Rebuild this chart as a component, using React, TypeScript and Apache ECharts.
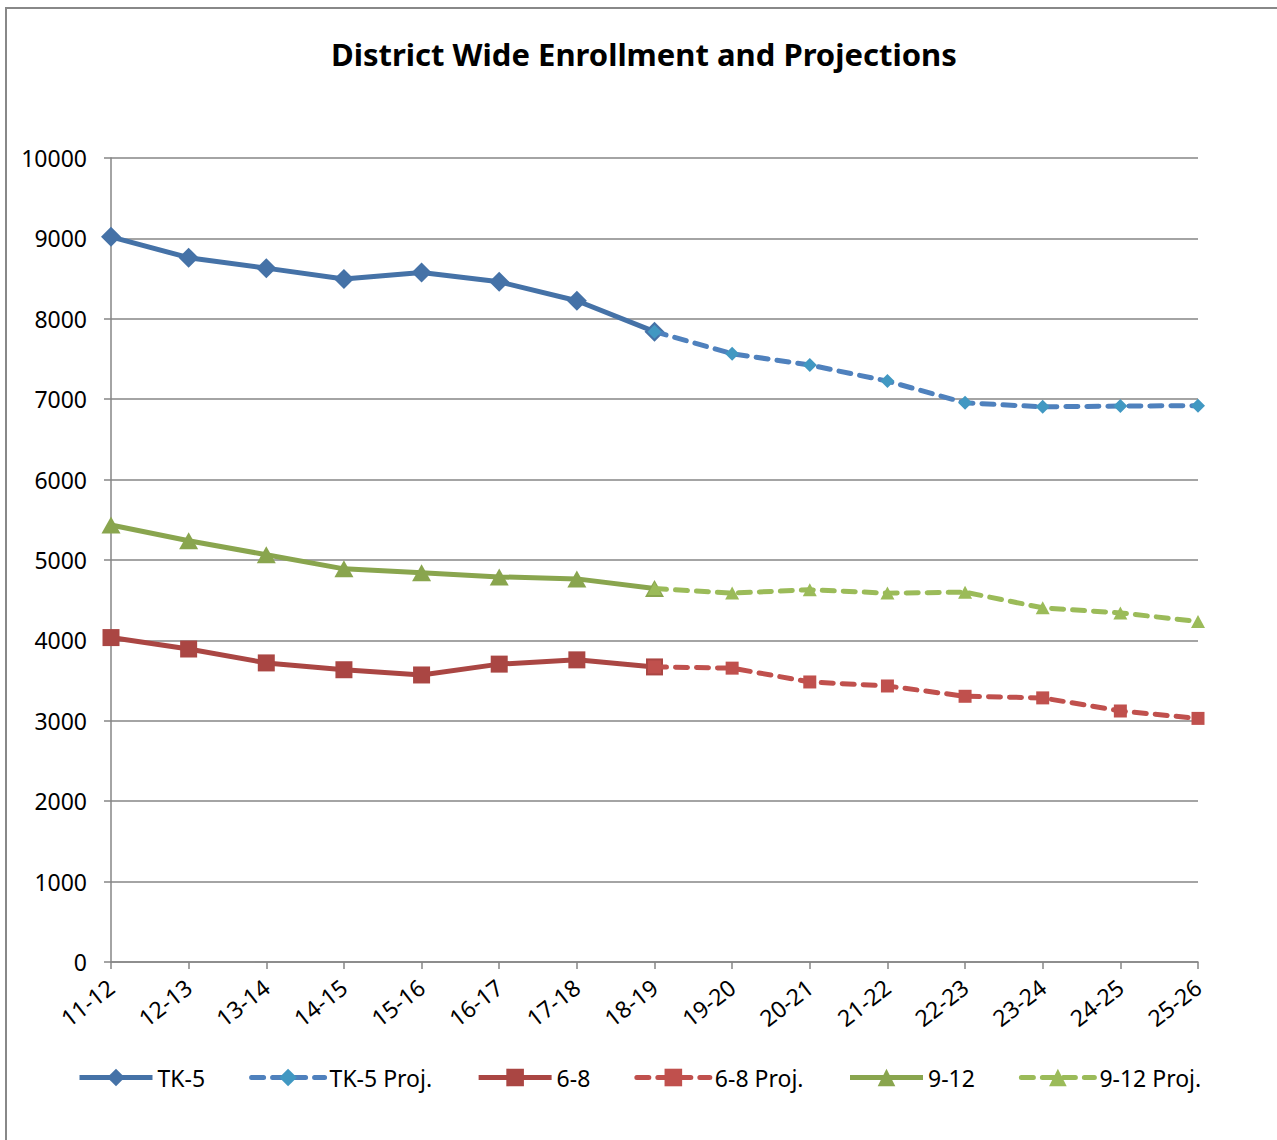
import React, { useEffect, useRef } from "react";
import * as echarts from "echarts";

const categories = ["11-12", "12-13", "13-14", "14-15", "15-16", "16-17", "17-18", "18-19", "19-20", "20-21", "21-22", "22-23", "23-24", "24-25", "25-26"];
const tk5 = [9020, 8760, 8630, 8495, 8575, 8460, 8225, 7840, null, null, null, null, null, null, null];
const tk5Proj = [null, null, null, null, null, null, null, 7840, 7565, 7425, 7225, 6955, 6905, 6915, 6920];
const g68 = [4035, 3893, 3720, 3635, 3570, 3705, 3758, 3670, null, null, null, null, null, null, null];
const g68Proj = [null, null, null, null, null, null, null, 3670, 3655, 3483, 3433, 3305, 3285, 3122, 3030];
const g912 = [5435, 5240, 5065, 4890, 4840, 4790, 4765, 4645, null, null, null, null, null, null, null];
const g912Proj = [null, null, null, null, null, null, null, 4645, 4588, 4630, 4588, 4600, 4405, 4342, 4235];
const yTicks = [0, 1000, 2000, 3000, 4000, 5000, 6000, 7000, 8000, 9000, 10000];

const FONT = "'Noto Sans', 'DejaVu Sans', sans-serif";

export default function App() {
  const ref = useRef<HTMLDivElement>(null);
  useEffect(() => {
    document.body.style.margin = "0";
    const chart = echarts.init(ref.current!, null, { renderer: "svg" });
    const solid = (name: string, data: any[], color: string, symbol: string, size: any) => ({
      name,
      type: "line",
      data,
      symbol,
      symbolSize: size,
      showAllSymbol: true,
      connectNulls: false,
      lineStyle: { color, width: 5 },
      itemStyle: { color },
      z: 2,
    });
    const dashed = (name: string, data: any[], color: string, mColor: string, symbol: string, size: any) => ({
      name,
      type: "line",
      data,
      symbol,
      symbolSize: size,
      showAllSymbol: true,
      connectNulls: false,
      lineStyle: { color, width: 5, type: [12, 9], cap: "round" },
      itemStyle: { color: mColor },
      z: 3,
    });
    chart.setOption({
      animation: false,
      backgroundColor: "#fff",
      textStyle: { fontFamily: FONT },
      title: {
        text: "District Wide Enrollment and Projections",
        left: 326,
        top: 33,
        textStyle: { fontFamily: FONT, fontWeight: "bold", fontSize: 31, color: "#000" },
      },
      graphic: [
        {
          type: "rect",
          shape: { x: 6, y: 8, width: 1400, height: 1300 },
          style: { fill: "none", stroke: "#888", lineWidth: 2 },
          silent: true,
        },
      ],
      grid: { left: 111, right: 79, top: 158, bottom: 178, containLabel: false },
      legend: {
        left: 72,
        top: 1061,
        itemWidth: 73,
        itemHeight: 22,
        itemGap: 44,
        lineStyle: { width: 5 },
        textStyle: { fontFamily: FONT, fontSize: 23, color: "#000" },
        data: ["TK-5", "TK-5 Proj.", "6-8", "6-8 Proj.", "9-12", "9-12 Proj."],
      },
      xAxis: {
        type: "category",
        data: categories,
        boundaryGap: false,
        axisLine: { lineStyle: { color: "#868686", width: 1.5 } },
        axisTick: { show: true, length: 7, inside: false, lineStyle: { color: "#868686", width: 1.5 } },
        axisLabel: { rotate: 38, fontSize: 23, color: "#000", fontFamily: FONT, margin: 22 },
        splitLine: { show: false },
      },
      yAxis: {
        type: "value",
        min: 0,
        max: 10000,
        interval: 1000,
        axisLine: { show: true, lineStyle: { color: "#868686", width: 1.5 } },
        axisTick: { show: true, length: 7, lineStyle: { color: "#868686", width: 1.5 } },
        axisLabel: {
          fontSize: 23,
          color: "#000",
          fontFamily: FONT,
          margin: 24,
          formatter: (v: number) => String(yTicks.includes(v) ? v : v),
        },
        splitLine: { show: true, lineStyle: { color: "#868686", width: 1.5 } },
      },
      series: [
        solid("TK-5", tk5, "#4572A7", "diamond", [20, 20]),
        dashed("TK-5 Proj.", tk5Proj, "#4F81BD", "#4198C2", "diamond", [14, 14]),
        solid("6-8", g68, "#AA4643", "rect", [17, 17]),
        dashed("6-8 Proj.", g68Proj, "#C0504D", "#C0504D", "rect", [13, 13]),
        solid("9-12", g912, "#89A54E", "triangle", [19, 17]),
        dashed("9-12 Proj.", g912Proj, "#9BBB59", "#9BBB59", "triangle", [14, 13]),
      ],
    });
    return () => chart.dispose();
  }, []);
  return <div ref={ref} style={{ width: 1277, height: 1140 }} />;
}
